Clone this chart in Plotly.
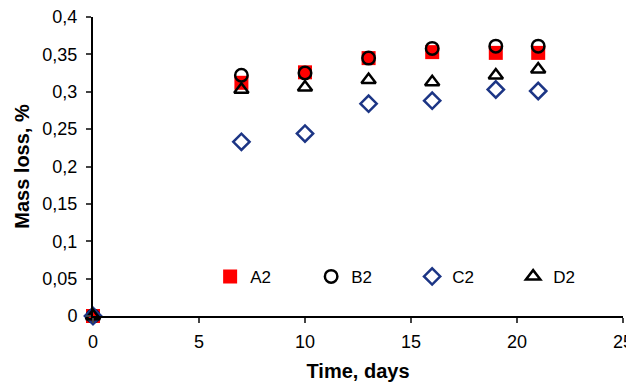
import plotly.graph_objects as go

days = [0, 7, 10, 13, 16, 19, 21]
a2 = [0, 0.312, 0.326, 0.345, 0.353, 0.352, 0.352]
b2 = [0, 0.322, 0.325, 0.345, 0.358, 0.361, 0.361]
c2 = [0, 0.233, 0.244, 0.284, 0.288, 0.303, 0.301]
d2 = [0, 0.303, 0.306, 0.316, 0.313, 0.322, 0.330]

y_ticks = [0, 0.05, 0.1, 0.15, 0.2, 0.25, 0.3, 0.35, 0.4]
y_labels = ["0", "0,05", "0,1", "0,15", "0,2", "0,25", "0,3", "0,35", "0,4"]
x_ticks = [0, 5, 10, 15, 20, 25]

fig = go.Figure()
fig.add_trace(go.Scatter(x=days, y=a2, mode="markers", name="A2",
                         marker=dict(symbol="square", size=14, color="#ff0000", line=dict(width=0))))
fig.add_trace(go.Scatter(x=days, y=b2, mode="markers", name="B2",
                         marker=dict(symbol="circle-open", size=12.5, color="#000000", line=dict(width=2.5))))
fig.add_trace(go.Scatter(x=days, y=c2, mode="markers", name="C2",
                         marker=dict(symbol="diamond-open", size=12.5, color="#1c3585", line=dict(width=2.5))))
fig.add_trace(go.Scatter(x=days, y=d2, mode="markers", name="D2",
                         marker=dict(symbol="triangle-up-open", size=12.5, color="#000000", line=dict(width=2.5))))
fig.update_traces(cliponaxis=False)

# the page adds an 8px body margin; margins below compensate for it
fig.update_layout(
    width=634, height=382,
    margin=dict(l=85, r=19, t=9, b=74),
    paper_bgcolor="white", plot_bgcolor="white",
    font=dict(family="Liberation Sans, Arial, sans-serif", size=18, color="#000"),
    legend=dict(orientation="h", x=0.221, y=0.131, xanchor="left", yanchor="middle",
                entrywidth=56, entrywidthmode="pixels", itemwidth=30,
                bgcolor="rgba(0,0,0,0)", font=dict(size=17)),
    xaxis=dict(range=[0, 25], tickvals=x_ticks, ticks="outside", ticklen=5, tickwidth=1.5,
               ticklabelstandoff=3, automargin=False, ticklabeloverflow="allow",
               showline=True, linecolor="#000", linewidth=2, showgrid=False, zeroline=False,
               title=dict(text="<b>Time, days</b>", font=dict(size=20), standoff=13)),
    yaxis=dict(range=[0, 0.4], tickvals=y_ticks, ticktext=y_labels, ticks="outside", ticklen=5,
               tickwidth=1.5, ticklabelstandoff=5, automargin=False, ticklabeloverflow="allow",
               showline=True, linecolor="#000", linewidth=2, showgrid=False,
               zeroline=False, title=dict(text="<b>Mass loss, %</b>", font=dict(size=20), standoff=7)),
)
fig.write_html("out.html")
